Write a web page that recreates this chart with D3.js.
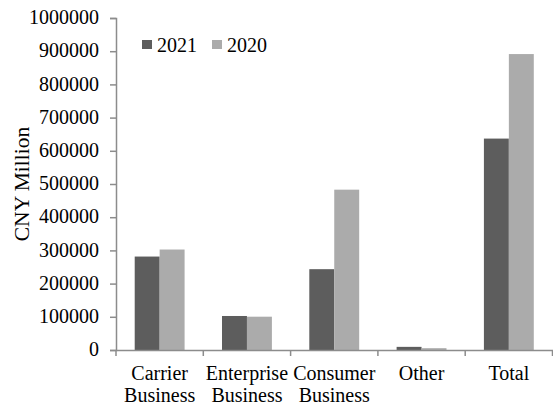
<!DOCTYPE html>
<html>
<head>
<meta charset="utf-8">
<script src="https://cdn.jsdelivr.net/npm/d3@7"></script>
<style>
  html, body { margin: 0; padding: 0; background: #fff; }
  svg { display: block; }
  svg text { font-family: "Liberation Serif", "DejaVu Serif", serif; fill: #000; }
</style>
</head>
<body>
<div id="chart"></div>
<script>
// Revenue by business segment, CNY million
const categories = [["Carrier", "Business"], ["Enterprise", "Business"], ["Consumer", "Business"], ["Other"], ["Total"]];
const seriesNames = ["2021", "2020"];
const values2021 = [281469, 102444, 243429, 9465, 636807];
const values2020 = [302621, 100339, 482916, 5492, 891368];
const yTicks = [0, 100000, 200000, 300000, 400000, 500000, 600000, 700000, 800000, 900000, 1000000];

const width = 553, height = 405;
const margin = { top: 18, right: 0, bottom: 55, left: 116 };
const fontStack = "'Liberation Serif', 'DejaVu Serif', serif";

const svg = d3.select("#chart").append("svg")
  .attr("width", width).attr("height", height)
  .attr("font-family", fontStack);

const x = d3.scaleBand()
  .domain(d3.range(categories.length))
  .range([margin.left, width - 0.5])
  .paddingInner(0).paddingOuter(0);

const xInner = d3.scaleBand()
  .domain(seriesNames)
  .range([0, x.bandwidth()])
  .paddingInner(0)
  .paddingOuter(0.75);

const y = d3.scaleLinear()
  .domain([0, 1000000])
  .range([height - margin.bottom, margin.top]);

const colors = { "2021": "#5d5d5d", "2020": "#ababab" };

// bars
const groups = svg.append("g").selectAll("g")
  .data(categories.map((c, i) => ({ i, vals: [values2021[i], values2020[i]] })))
  .join("g")
  .attr("transform", d => `translate(${x(d.i)},0)`);

groups.selectAll("rect")
  .data(d => d.vals.map((v, k) => ({ key: seriesNames[k], v })))
  .join("rect")
  .attr("x", d => xInner(d.key))
  .attr("width", xInner.bandwidth())
  .attr("y", d => y(d.v))
  .attr("height", d => y(0) - y(d.v))
  .attr("fill", d => colors[d.key]);

// y axis
const yAxis = d3.axisLeft(y)
  .tickValues(yTicks)
  .tickFormat(d3.format("d"))
  .tickSize(6)
  .tickPadding(11);

const yg = svg.append("g")
  .attr("transform", `translate(${margin.left},0)`)
  .call(yAxis)
  .attr("font-family", fontStack)
  .attr("font-size", 20);
yg.select(".domain").attr("stroke", "#8c8c8c").attr("stroke-width", 1.5);
yg.selectAll(".tick line").attr("stroke", "#8c8c8c").attr("stroke-width", 1.5);
yg.selectAll(".tick text").attr("fill", "#000").attr("dy", "0.28em");

// x axis
const xAxis = d3.axisBottom(x)
  .tickSize(0)
  .tickFormat("");
const xg = svg.append("g")
  .attr("transform", `translate(0,${y(0)})`)
  .call(xAxis);
xg.select(".domain").attr("stroke", "#8c8c8c").attr("stroke-width", 1.5);
// tick marks between categories
xg.selectAll(".sep")
  .data(d3.range(categories.length + 1))
  .join("line")
  .attr("class", "sep")
  .attr("x1", i => i < categories.length ? x(i) : x(categories.length - 1) + x.bandwidth())
  .attr("x2", i => i < categories.length ? x(i) : x(categories.length - 1) + x.bandwidth())
  .attr("y1", 0).attr("y2", 6)
  .attr("stroke", "#8c8c8c").attr("stroke-width", 1.5);

// category labels
const labels = svg.append("g").selectAll("text")
  .data(categories.map((c, i) => ({ c, i })))
  .join("text")
  .attr("text-anchor", "middle")
  .attr("x", d => x(d.i) + x.bandwidth() / 2)
  .attr("y", y(0) + 30)
  .attr("font-size", 20);
labels.selectAll("tspan")
  .data(d => d.c)
  .join("tspan")
  .attr("x", function () { return d3.select(this.parentNode).attr("x"); })
  .attr("dy", (d, k) => k === 0 ? 0 : 22)
  .text(d => d);

// y axis title
svg.append("text")
  .attr("transform", `translate(29,${(y(0) + y(1000000)) / 2}) rotate(-90)`)
  .attr("text-anchor", "middle")
  .attr("font-size", 21.5)
  .text("CNY Million");

// legend
const legend = svg.append("g").attr("transform", "translate(142,40)");
const legendItems = legend.selectAll("g")
  .data(seriesNames)
  .join("g")
  .attr("transform", (d, i) => `translate(${i * 70},0)`);
legendItems.append("rect")
  .attr("width", 10).attr("height", 9)
  .attr("fill", d => colors[d]);
legendItems.append("text")
  .attr("x", 15).attr("y", 12)
  .attr("font-size", 20)
  .text(d => d);
</script>
</body>
</html>
